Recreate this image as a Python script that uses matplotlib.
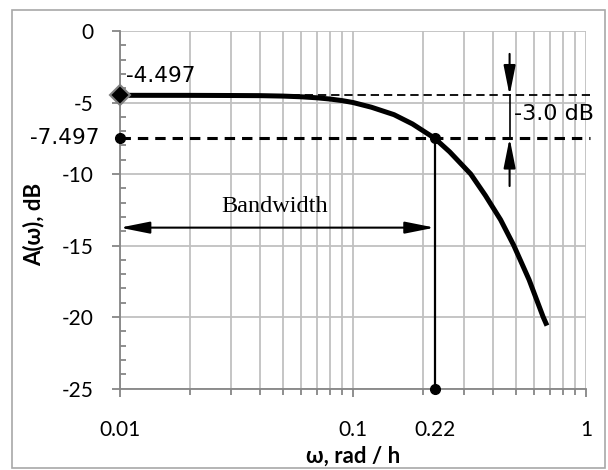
import numpy as np
import matplotlib
matplotlib.use('Agg')
import matplotlib.pyplot as plt
from matplotlib.patches import Rectangle
from matplotlib.ticker import FixedLocator, NullFormatter, MultipleLocator

plt.rcParams['lines.scale_dashes'] = False
plt.rcParams['axes.unicode_minus'] = False

# amplitude response
omega = [0.01, 0.02, 0.03, 0.04, 0.05, 0.06, 0.07, 0.08, 0.09, 0.10, 0.12,
         0.15, 0.18, 0.224, 0.26, 0.32, 0.37, 0.43, 0.49, 0.57, 0.655, 0.68]
amp_db = [-4.497, -4.50, -4.51, -4.52, -4.55, -4.60, -4.67, -4.76, -4.87, -5.00, -5.33,
          -5.85, -6.50, -7.497, -8.45, -10.0, -11.5, -13.2, -15.0, -17.4, -20.0, -20.6]

a_max = -4.497          # level at low frequency
a_cut = -7.497          # -3 dB level
w_c = 0.224             # bandwidth (labelled 0.22)
w_min, w_max = 0.01, 1.0
y_min, y_max = -25, 0
x_ticks = [0.01, 0.1, w_c, 1]
x_tick_labels = ['0.01', '0.1', '0.22', '1']
bw_y = -13.75           # height of the bandwidth arrow
w_3db = 0.47            # where the -3 dB arrows sit
arr_top, arr_bot = -1.6, -10.84

grid_c = '#c0c0c0'
axis_c = '#868686'
tick_font = ['Lato', 'DejaVu Sans']

fig = plt.figure(figsize=(6.08, 4.70), dpi=100)
fig.patches.append(Rectangle((12/608, 2/470), 593/608, 458/470, transform=fig.transFigure,
                             fill=False, edgecolor='#a8a8a8', lw=1.2))
ax = fig.add_axes([0.1974, 0.1734, 0.7664, 0.7606])

ax.set_xscale('log')
ax.set_xlim(w_min, w_max)
ax.set_ylim(y_min, y_max)

# grid
ax.xaxis.set_major_locator(FixedLocator(x_ticks))
minors = [m * d for d in (0.01, 0.1) for m in range(2, 10)]
ax.xaxis.set_minor_locator(FixedLocator(minors))
ax.xaxis.set_minor_formatter(NullFormatter())
ax.set_xticklabels(x_tick_labels)
ax.yaxis.set_major_locator(MultipleLocator(5))
ax.yaxis.set_minor_locator(MultipleLocator(1))
ax.grid(True, which='major', color=grid_c, lw=1.3)
ax.grid(True, which='minor', axis='x', color=grid_c, lw=1.3)
ax.set_axisbelow(True)
bw_tick = ax.xaxis.get_major_ticks()[2]
bw_tick.gridline.set_visible(False)
bw_tick.tick1line.set_visible(False)

for s in ['top', 'right']:
    ax.spines[s].set_visible(False)
for s in ['left', 'bottom']:
    ax.spines[s].set_color(axis_c)
    ax.spines[s].set_linewidth(1.3)

ax.tick_params(axis='x', which='major', direction='out', length=6, width=1.3, color=axis_c, pad=17)
ax.tick_params(axis='x', which='minor', direction='out', length=4.5, width=1.3, color=axis_c)
ax.tick_params(axis='y', which='major', direction='out', length=6, width=1.3, color=axis_c, pad=13)
ax.tick_params(axis='y', which='minor', direction='in', length=4.5, width=1.3, color=axis_c)
for lab in ax.get_xticklabels() + ax.get_yticklabels():
    lab.set_fontfamily(tick_font)
    lab.set_fontsize(15)

# reference dashed lines
ax.plot([w_min, 1.04], [a_max, a_max], color='black', lw=1.3, dashes=(6, 3.5), clip_on=False)
ax.plot([w_min, 1.04], [a_cut, a_cut], color='black', lw=2.2, dashes=(7.5, 5), clip_on=False)

# response curve
ax.plot(omega, amp_db, color='black', lw=3.6, solid_capstyle='butt', zorder=5)

# bandwidth vertical line
ax.plot([w_c, w_c], [a_cut, y_min], color='black', lw=1.6, zorder=4)
ax.plot([w_c, w_c], [a_cut, y_min], 'o', color='black', ms=7, zorder=6, clip_on=False)
ax.plot([w_min], [a_cut], 'o', color='black', ms=7, zorder=6, clip_on=False)
ax.plot([w_min], [a_max], 'D', mfc='black', mec='#808080', mew=1.5, ms=10, zorder=7, clip_on=False)

# bandwidth arrow
ax.annotate('', xy=(w_min, bw_y), xytext=(w_c, bw_y),
            arrowprops=dict(arrowstyle='<|-|>,head_length=1.5,head_width=0.3', lw=1.5,
                            color='black', shrinkA=0, shrinkB=0, mutation_scale=12))
ax.text(0.0463, -12.3, 'Bandwidth', ha='center', va='center', fontsize=17.5,
        family='Liberation Serif')

# -3 dB arrows
ax.plot([w_3db, w_3db], [a_max, a_cut], color='black', lw=1.2)
ax.annotate('', xy=(w_3db, a_max), xytext=(w_3db, arr_top),
            arrowprops=dict(arrowstyle='-|>,head_length=1.5,head_width=0.3', lw=1.5,
                            color='black', shrinkA=0, shrinkB=0, mutation_scale=12))
ax.annotate('', xy=(w_3db, a_cut), xytext=(w_3db, arr_bot),
            arrowprops=dict(arrowstyle='-|>,head_length=1.5,head_width=0.3', lw=1.5,
                            color='black', shrinkA=0, shrinkB=0, mutation_scale=12))
ax.annotate('-3.0 dB', xy=(w_3db, (a_max + a_cut) / 2 + 0.2), xytext=(3, 0),
            textcoords='offset points', ha='left', va='center', fontsize=16,
            family='DejaVu Sans')

# value labels
ax.annotate('%.3f' % a_max, xy=(w_min, a_max), xytext=(4, 14), textcoords='offset points',
            ha='left', va='center', fontsize=15.5, family='DejaVu Sans')
ax.text(-0.045, a_cut, '%.3f' % a_cut, transform=ax.get_yaxis_transform(),
        ha='right', va='center', fontsize=15.5, family='DejaVu Sans')

ax.set_xlabel('ω, rad / h', fontsize=16, fontweight='bold', family=tick_font)
ax.set_ylabel('A(ω), dB', fontsize=16, fontweight='bold', family=tick_font)
ax.xaxis.set_label_coords(0.5, -0.16)
ax.yaxis.set_label_coords(-0.162, 0.46)

fig.savefig('out.png', dpi=100)
